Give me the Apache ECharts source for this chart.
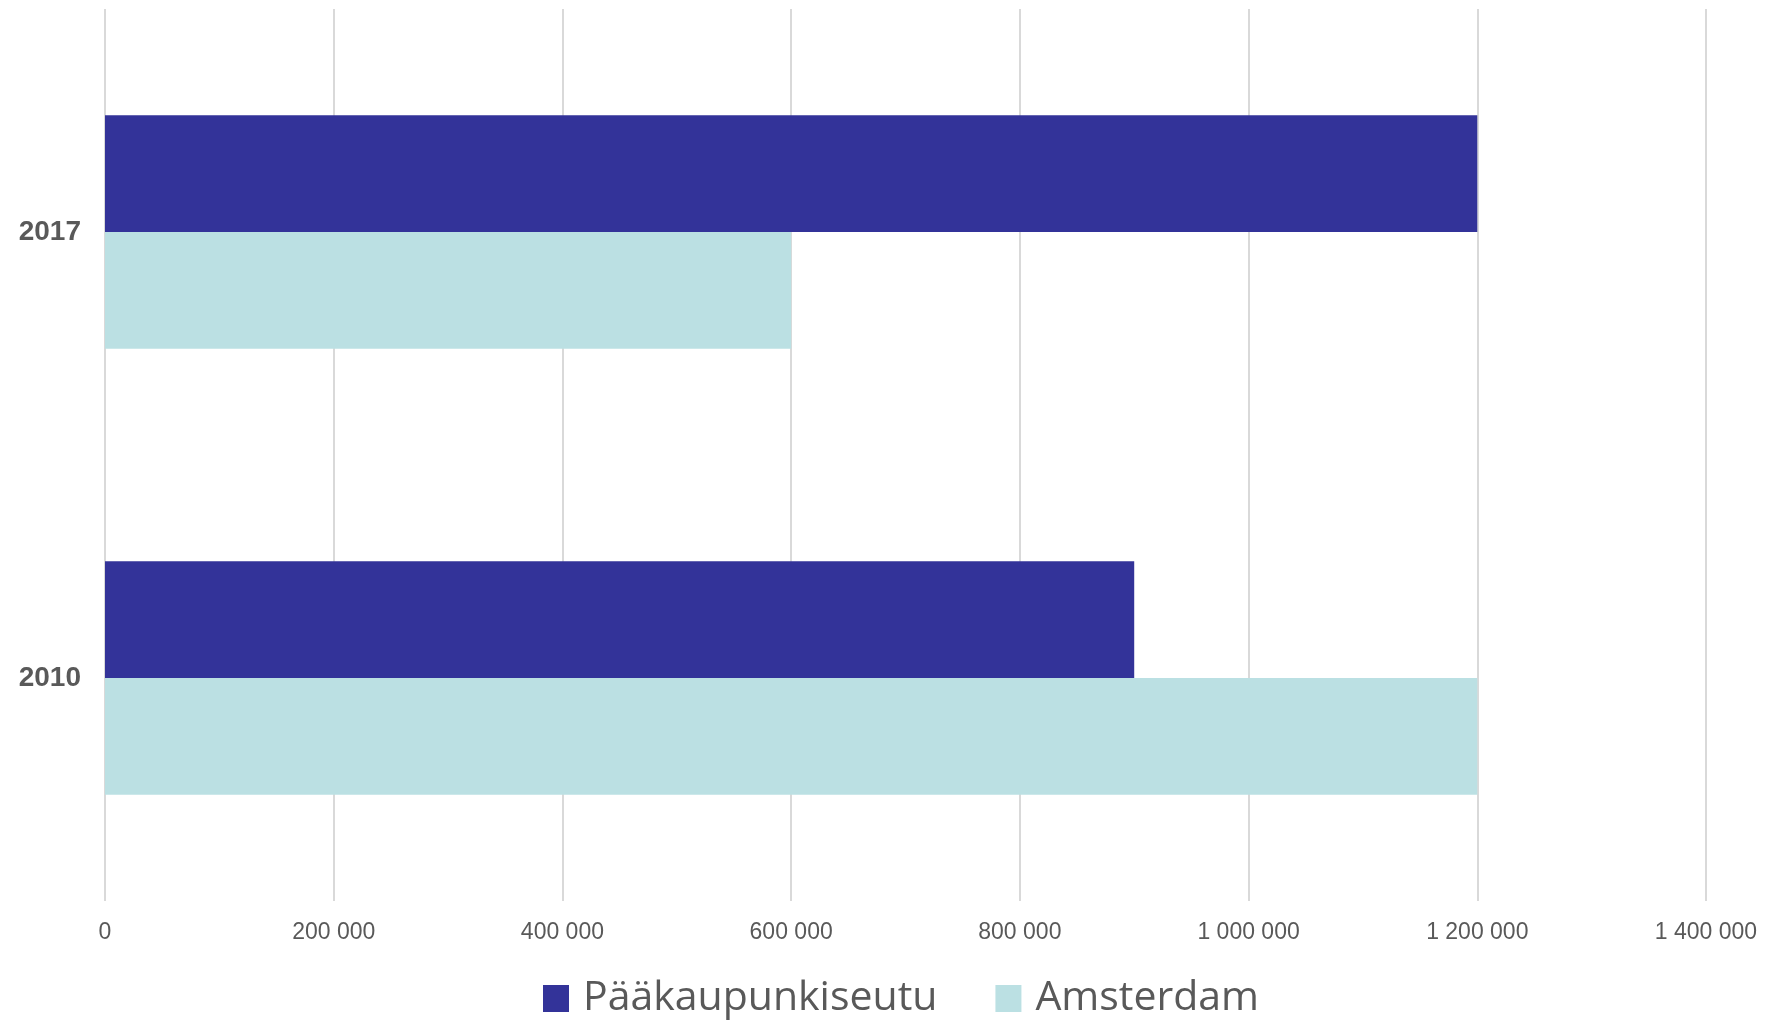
<!DOCTYPE html>
<html><head><meta charset="utf-8">
<script src="https://cdn.jsdelivr.net/npm/echarts@6/dist/echarts.min.js"></script>
<style>html,body{margin:0;padding:0;background:#fff}#c{width:1767px;height:1021px}</style>
</head><body><div id="c"></div>
<script>
const categories = ['2010', '2017'];
const seriesNames = ['Pääkaupunkiseutu', 'Amsterdam'];
const paakaupunkiseutu = [900000, 1200000];
const amsterdam = [1200000, 600000];
const xTicks = [0, 200000, 400000, 600000, 800000, 1000000, 1200000, 1400000];

const chart = echarts.init(document.getElementById('c'));
const fmt = v => String(v).replace(/\B(?=(\d{3})+(?!\d))/g, ' ');
chart.setOption({
  animation: false,
  grid: { left: 105, right: 61, top: 9, bottom: 120, containLabel: false },
  legend: {
    data: seriesNames,
    left: 538, top: 973,
    itemWidth: 26, itemHeight: 27, itemGap: 58,
    icon: 'rect',
    textStyle: { fontFamily: 'Open Sans', fontSize: 41, color: '#595959', padding: [0, 0, 0, 9] }
  },
  xAxis: {
    type: 'value', min: xTicks[0], max: xTicks[xTicks.length - 1], interval: 200000,
    axisLine: { show: false }, axisTick: { show: false },
    splitLine: { lineStyle: { color: '#d9d9d9', width: 2 } },
    axisLabel: { formatter: fmt, fontFamily: 'Liberation Sans', fontSize: 23, color: '#595959', margin: 20 }
  },
  yAxis: {
    type: 'category', data: categories,
    axisLine: { show: false }, axisTick: { show: false },
    axisLabel: { fontFamily: 'Liberation Sans', fontWeight: 'bold', fontSize: 28, color: '#595959', margin: 24 }
  },
  series: [
    { name: seriesNames[0], type: 'bar', data: paakaupunkiseutu, itemStyle: { color: '#333399' }, barGap: '0%', barCategoryGap: '47.6%' },
    { name: seriesNames[1], type: 'bar', data: amsterdam, itemStyle: { color: '#bbe0e3' }, barGap: '0%', barCategoryGap: '47.6%' }
  ]
});
</script></body></html>
